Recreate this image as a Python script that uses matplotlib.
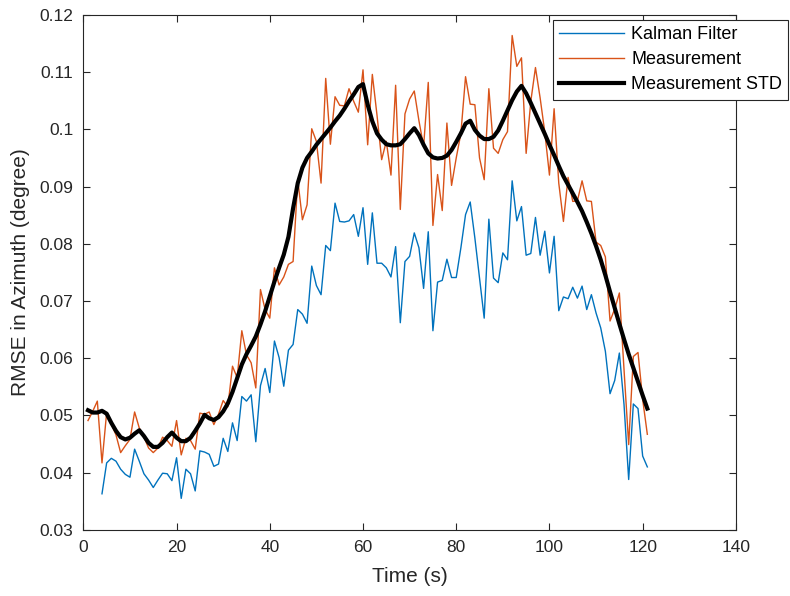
import numpy as np
import matplotlib
matplotlib.use("Agg")
import matplotlib.pyplot as plt
from matplotlib.ticker import FormatStrFormatter

plt.rcParams["font.family"] = ["Liberation Sans", "DejaVu Sans"]

# sample times (s)
time_meas = np.arange(1, 122)
time_kf = np.arange(4, 122)

rmse_meas = [
    0.0491, 0.0507, 0.0525, 0.0417, 0.0505, 0.0485, 0.0466, 0.0435, 0.0447, 0.0458,
    0.0506, 0.0478, 0.0462, 0.0443, 0.0435, 0.0443, 0.0462, 0.0456, 0.0446, 0.0491,
    0.0431, 0.0460, 0.0456, 0.0441, 0.0504, 0.0502, 0.0506, 0.0484, 0.0502, 0.0526,
    0.0515, 0.0586, 0.0566, 0.0648, 0.0606, 0.0592, 0.0548, 0.0720, 0.0685, 0.0670,
    0.0758, 0.0728, 0.0742, 0.0764, 0.0769, 0.0912, 0.0842, 0.0868, 0.1001, 0.0979,
    0.0906, 0.1089, 0.0974, 0.1057, 0.1042, 0.1041, 0.1071, 0.1049, 0.1030, 0.1104,
    0.0973, 0.1096, 0.1025, 0.0947, 0.0979, 0.0920, 0.1077, 0.0860, 0.1027, 0.1053,
    0.1067, 0.1015, 0.0970, 0.1082, 0.0832, 0.0921, 0.0858, 0.1011, 0.0902, 0.0950,
    0.0993, 0.1092, 0.1044, 0.1043, 0.0950, 0.0912, 0.1071, 0.0967, 0.0958, 0.0982,
    0.0996, 0.1164, 0.1110, 0.1125, 0.0958, 0.1049, 0.1108, 0.1055, 0.0995, 0.0920,
    0.1036, 0.0906, 0.0839, 0.0916, 0.0874, 0.0875, 0.0910, 0.0875, 0.0874, 0.0803,
    0.0797, 0.0777, 0.0665, 0.0686, 0.0714, 0.0580, 0.0449, 0.0603, 0.0610, 0.0528,
    0.0467,
]

rmse_kf = [
    0.0363, 0.0417, 0.0425, 0.0420, 0.0406, 0.0397, 0.0392, 0.0441, 0.0420, 0.0398,
    0.0387, 0.0374, 0.0387, 0.0399, 0.0398, 0.0386, 0.0426, 0.0355, 0.0406, 0.0398,
    0.0368, 0.0438, 0.0436, 0.0432, 0.0411, 0.0415, 0.0460, 0.0437, 0.0487, 0.0456,
    0.0533, 0.0525, 0.0536, 0.0454, 0.0552, 0.0582, 0.0540, 0.0630, 0.0601, 0.0551,
    0.0614, 0.0624, 0.0685, 0.0677, 0.0661, 0.0761, 0.0727, 0.0711, 0.0797, 0.0788,
    0.0871, 0.0839, 0.0838, 0.0840, 0.0851, 0.0813, 0.0863, 0.0764, 0.0854, 0.0766,
    0.0766, 0.0758, 0.0742, 0.0795, 0.0662, 0.0769, 0.0778, 0.0819, 0.0793, 0.0722,
    0.0821, 0.0648, 0.0733, 0.0736, 0.0773, 0.0741, 0.0741, 0.0793, 0.0851, 0.0873,
    0.0810, 0.0740, 0.0670, 0.0843, 0.0740, 0.0732, 0.0784, 0.0772, 0.0910, 0.0840,
    0.0865, 0.0780, 0.0783, 0.0846, 0.0780, 0.0822, 0.0749, 0.0813, 0.0683, 0.0707,
    0.0704, 0.0724, 0.0705, 0.0726, 0.0685, 0.0711, 0.0679, 0.0653, 0.0612, 0.0538,
    0.0561, 0.0609, 0.0519, 0.0388, 0.0520, 0.0512, 0.0429, 0.0410,
]

meas_std = [
    0.0509, 0.0505, 0.0505, 0.0508, 0.0503, 0.0487, 0.0473, 0.0462, 0.0458, 0.0461,
    0.0468, 0.0474, 0.0464, 0.0452, 0.0445, 0.0445, 0.0452, 0.0462, 0.0470, 0.0461,
    0.0455, 0.0455, 0.0461, 0.0473, 0.0486, 0.0501, 0.0495, 0.0492, 0.0497, 0.0507,
    0.0521, 0.0541, 0.0565, 0.0589, 0.0607, 0.0622, 0.0638, 0.0659, 0.0682, 0.0708,
    0.0734, 0.0758, 0.0781, 0.0812, 0.0862, 0.0906, 0.0933, 0.0950, 0.0961, 0.0973,
    0.0983, 0.0993, 0.1003, 0.1014, 0.1024, 0.1036, 0.1049, 0.1061, 0.1074, 0.1079,
    0.1043, 0.1014, 0.0993, 0.0982, 0.0974, 0.0972, 0.0972, 0.0974, 0.0983, 0.0993,
    0.1002, 0.0990, 0.0973, 0.0958, 0.0951, 0.0949, 0.0950, 0.0954, 0.0964, 0.0978,
    0.0993, 0.1010, 0.1015, 0.0999, 0.0989, 0.0983, 0.0983, 0.0987, 0.0998, 0.1015,
    0.1033, 0.1051, 0.1066, 0.1076, 0.1063, 0.1046, 0.1028, 0.1010, 0.0992, 0.0973,
    0.0955, 0.0936, 0.0918, 0.0903, 0.0888, 0.0873, 0.0857, 0.0838, 0.0818, 0.0796,
    0.0772, 0.0745, 0.0716, 0.0688, 0.0660, 0.0633, 0.0607, 0.0583, 0.0559, 0.0535,
    0.0512,
]

AX_COLOR = "#262626"

fig = plt.figure(figsize=(7.9, 5.96), dpi=100)
ax = fig.add_axes([0.1055, 0.111, 0.826, 0.864])

ax.plot(time_kf, rmse_kf, color="#0072BD", lw=1.0, label="Kalman Filter")
ax.plot(time_meas, rmse_meas, color="#D95319", lw=1.0, label="Measurement")
ax.plot(time_meas, meas_std, color="black", lw=3.0, label="Measurement STD")

ax.set_xlim(0, 140)
ax.set_ylim(0.03, 0.12)
ax.set_xticks(np.arange(0, 141, 20))
ax.set_yticks(np.arange(0.03, 0.1201, 0.01))
ax.yaxis.set_major_formatter(FormatStrFormatter("%g"))
ax.tick_params(direction="in", top=True, right=True, length=5, width=0.8,
               colors=AX_COLOR, labelsize=12.5, labelcolor=AX_COLOR, pad=7)
for spine in ax.spines.values():
    spine.set_color(AX_COLOR)
    spine.set_linewidth(0.8)

ax.set_xlabel("Time (s)", fontsize=15, color=AX_COLOR, labelpad=9)
ax.set_ylabel("RMSE in Azimuth (degree)", fontsize=15, color=AX_COLOR, labelpad=7)

leg = ax.legend(loc="upper right", bbox_to_anchor=(0.998, 0.967),
                bbox_transform=fig.transFigure, fontsize=13, fancybox=False,
                framealpha=1, edgecolor=AX_COLOR, handlelength=3.6,
                borderaxespad=0, borderpad=0.35, labelspacing=0.45,
                handletextpad=0.4)
leg.get_frame().set_linewidth(0.8)

fig.savefig("out.png", dpi=100)
